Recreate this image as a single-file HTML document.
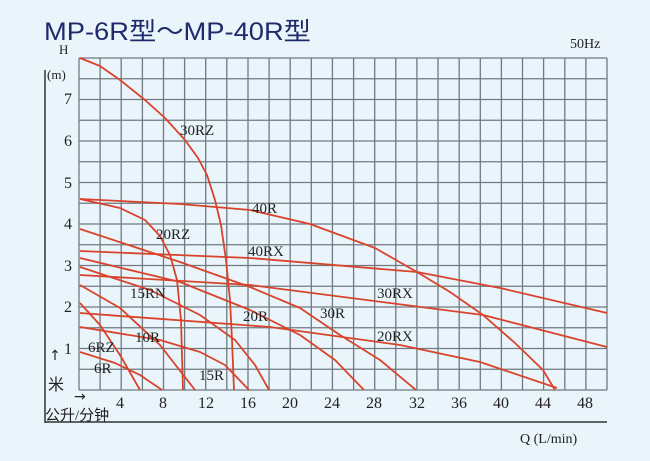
<!DOCTYPE html><html><head><meta charset="utf-8"><style>
body{margin:0;background:#eaf5fb}
svg{display:block}
</style></head><body>
<svg width="650" height="461" viewBox="0 0 650 461" xmlns="http://www.w3.org/2000/svg">
<rect width="650" height="461" fill="#eaf5fb"/>
<text x="44" y="40" font-family="Liberation Sans, Noto Sans CJK SC, sans-serif" font-size="25" fill="#1f2a6b" textLength="267" lengthAdjust="spacingAndGlyphs">MP-6R型～MP-40R型</text>
<text x="570" y="48" font-family="Liberation Serif, serif" font-size="14" fill="#222">50Hz</text>
<path stroke="#6f7a80" stroke-width="1.3" fill="none" d="
M79 58V390M100.1 58V390M121.2 58V390M142.4 58V390M163.5 58V390M184.6 58V390M205.7 58V390M226.8 58V390M248 58V390M269.1 58V390M290.2 58V390M311.3 58V390M332.4 58V390M353.6 58V390M374.7 58V390M395.8 58V390M416.9 58V390M438 58V390M459.2 58V390M480.3 58V390M501.4 58V390M522.5 58V390M543.6 58V390M564.8 58V390M585.9 58V390M607 58V390
M79 58H607M79 78.75H607M79 99.5H607M79 120.25H607M79 141H607M79 161.75H607M79 182.5H607M79 203.25H607M79 224H607M79 244.75H607M79 265.5H607M79 286.25H607M79 307H607M79 327.75H607M79 348.5H607M79 369.25H607M79 390H607"/>
<line x1="45" y1="70" x2="45" y2="423" stroke="#333" stroke-width="1.5"/>
<line x1="45" y1="422" x2="607" y2="422" stroke="#333" stroke-width="1.5"/>
<g stroke="#d9432b" stroke-width="1.8" fill="none" stroke-linejoin="round">
<polyline points="80,58 100,66 120,80 145,100 165,118 185,140 198,158 207,175 215,200 221,225 226,260 230,300 232,340 234,390"/>
<polyline points="80,199 120,208 145,220 160,236 170,255 177,280 181,320 183,390"/>
<polyline points="80,199 180,204 250,210 310,224 375,248 417,272 450,292 483,315 515,343 543,370 555,390"/>
<polyline points="80,251 250,258 417,272 500,288 607,313"/>
<polyline points="80,275 250,285 483,315 607,347"/>
<polyline points="80,313 270,327 400,345 480,362 557,388"/>
<polyline points="80,229 180,262 250,287 300,308 340,335 380,360 416,390"/>
<polyline points="80,258 180,282 250,310 300,335 335,360 364,390"/>
<polyline points="80,267 150,290 200,315 235,340 255,365 269,390"/>
<polyline points="80,327 160,340 200,352 225,365 249,390"/>
<polyline points="80,285 120,308 160,345 195,390"/>
<polyline points="80,303 100,325 120,355 140,390"/>
<polyline points="80,352 115,363 140,375 162,390"/>
</g>
<g font-family="Liberation Serif, serif" font-size="16" fill="#222">
<text x="68" y="104" text-anchor="middle">7</text>
<text x="68" y="146" text-anchor="middle">6</text>
<text x="68" y="188" text-anchor="middle">5</text>
<text x="68" y="229" text-anchor="middle">4</text>
<text x="68" y="271" text-anchor="middle">3</text>
<text x="68" y="312" text-anchor="middle">2</text>
<text x="68" y="354" text-anchor="middle">1</text>
<text x="59" y="54" font-size="13">H</text>
<text x="47" y="79" font-size="13">(m)</text>
<text x="120" y="408" text-anchor="middle">4</text>
<text x="163" y="408" text-anchor="middle">8</text>
<text x="206" y="408" text-anchor="middle">12</text>
<text x="248" y="408" text-anchor="middle">16</text>
<text x="290" y="408" text-anchor="middle">20</text>
<text x="332" y="408" text-anchor="middle">24</text>
<text x="374" y="408" text-anchor="middle">28</text>
<text x="417" y="408" text-anchor="middle">32</text>
<text x="459" y="408" text-anchor="middle">36</text>
<text x="501" y="408" text-anchor="middle">40</text>
<text x="543" y="408" text-anchor="middle">44</text>
<text x="585" y="408" text-anchor="middle">48</text>
<text x="520" y="443" font-size="14">Q (L/min)</text>
<g font-size="15">
<text x="180" y="135">30RZ</text>
<text x="252" y="213">40R</text>
<text x="156" y="239">20RZ</text>
<text x="248" y="256">40RX</text>
<text x="130" y="298">15RN</text>
<text x="377" y="298">30RX</text>
<text x="243" y="321">20R</text>
<text x="320" y="318">30R</text>
<text x="377" y="341">20RX</text>
<text x="135" y="342">10R</text>
<text x="88" y="352">6RZ</text>
<text x="94" y="373">6R</text>
<text x="199" y="380">15R</text>
</g>
</g>
<text x="55" y="360" font-size="14" fill="#222" font-family="DejaVu Sans, sans-serif" text-anchor="middle">↑</text>
<text x="48" y="390" font-size="16" fill="#222" font-family="Noto Sans CJK SC, sans-serif">米</text>
<text x="74" y="401" font-size="14" fill="#222" font-family="DejaVu Sans, sans-serif">→</text>
<text x="45" y="420" font-size="15" fill="#222" font-family="Liberation Serif, Noto Sans CJK SC, sans-serif">公升/分钟</text>
</svg>
</body></html>
